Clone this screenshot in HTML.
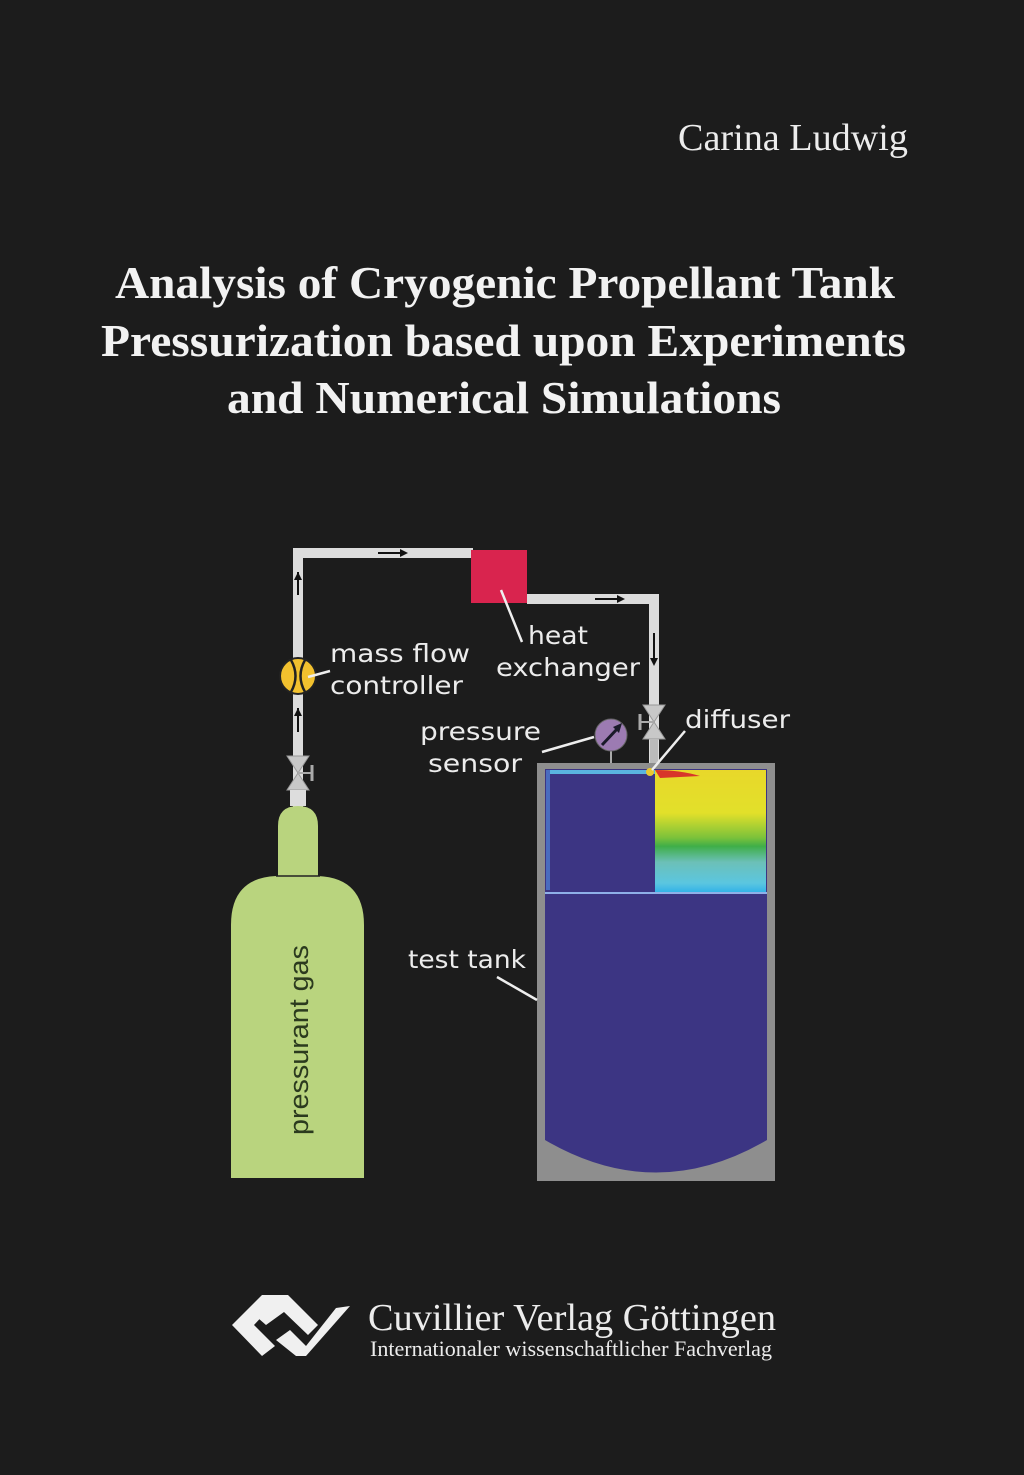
<!DOCTYPE html>
<html><head><meta charset="utf-8"><style>
html,body{margin:0;padding:0;background:#1c1c1c;}
svg{display:block}
</style></head><body>
<svg width="1024" height="1475" viewBox="0 0 1024 1475" xmlns="http://www.w3.org/2000/svg">
<defs>
<linearGradient id="hot" x1="0" y1="0" x2="0" y2="1">
<stop offset="0" stop-color="#e8d82a"/>
<stop offset="0.35" stop-color="#e2e02a"/>
<stop offset="0.55" stop-color="#7cc23a"/>
<stop offset="0.62" stop-color="#3fae48"/>
<stop offset="0.75" stop-color="#6cc0b8"/>
<stop offset="0.92" stop-color="#5bc6e0"/>
<stop offset="1" stop-color="#2fb0e8"/>
</linearGradient>
</defs>
<rect width="1024" height="1475" fill="#1c1c1c"/>
<text x="678" y="150" textLength="230" lengthAdjust="spacingAndGlyphs" font-family="Liberation Serif, serif" font-size="38" fill="#ececec">Carina Ludwig</text>
<g font-family="Liberation Serif, serif" font-weight="bold" font-size="46" fill="#f2f2f2" lengthAdjust="spacingAndGlyphs">
<text x="115" y="298" textLength="780" lengthAdjust="spacingAndGlyphs">Analysis of Cryogenic Propellant Tank</text>
<text x="101" y="356" textLength="805" lengthAdjust="spacingAndGlyphs">Pressurization based upon Experiments</text>
<text x="227" y="413" textLength="554" lengthAdjust="spacingAndGlyphs">and Numerical Simulations</text>
</g>
<!-- pipes -->
<g fill="#dcdcdc">
<rect x="293" y="548" width="10" height="260"/>
<rect x="293" y="548" width="180" height="10"/>
<rect x="527" y="594" width="132" height="10"/>
<rect x="649" y="594" width="10" height="175"/>
</g>
<!-- arrows -->
<g stroke="#111" stroke-width="2" fill="#111">
<line x1="378" y1="553" x2="400" y2="553"/><polygon points="400,549 408,553 400,557" stroke="none"/>
<line x1="595" y1="599" x2="617" y2="599"/><polygon points="617,595 625,599 617,603" stroke="none"/>
<line x1="298" y1="572" x2="298" y2="595"/><polygon points="294,580 298,572 302,580" stroke="none"/>
<line x1="298" y1="708" x2="298" y2="732"/><polygon points="294,716 298,708 302,716" stroke="none"/>
<line x1="654" y1="633" x2="654" y2="658"/><polygon points="650,658 654,666 658,658" stroke="none"/>
</g>
<!-- heat exchanger -->
<rect x="471" y="550" width="56" height="53" fill="#d9244e"/>
<line x1="501" y1="590" x2="522" y2="642" stroke="#eee" stroke-width="2.5"/>
<!-- mass flow controller -->
<circle cx="298" cy="676" r="18" fill="#f2c12e" stroke="#222" stroke-width="2"/>
<path d="M291 660 Q300 676 291 692 M305 660 Q296 676 305 692" stroke="#222" stroke-width="2.5" fill="none"/>
<line x1="308" y1="677" x2="330" y2="671" stroke="#eee" stroke-width="2.5"/>
<!-- left valve -->
<g fill="#c8c8c8" stroke="#999" stroke-width="1">
<polygon points="287,756 309,756 298,773"/>
<polygon points="287,790 309,790 298,773"/>
</g>
<line x1="298" y1="773" x2="312" y2="773" stroke="#aaa" stroke-width="2"/>
<line x1="312" y1="765" x2="312" y2="781" stroke="#aaa" stroke-width="3"/>
<!-- right valve -->
<g fill="#c8c8c8" stroke="#999" stroke-width="1">
<polygon points="643,705 665,705 654,722"/>
<polygon points="643,739 665,739 654,722"/>
</g>
<line x1="640" y1="722" x2="654" y2="722" stroke="#aaa" stroke-width="2"/>
<line x1="640" y1="714" x2="640" y2="730" stroke="#aaa" stroke-width="3"/>
<rect x="650" y="739" width="8" height="26" fill="#bbb"/>
<!-- pressure sensor -->
<line x1="611" y1="750" x2="611" y2="764" stroke="#aaa" stroke-width="2"/>
<circle cx="611" cy="735" r="16" fill="#9c7bb2" stroke="#666" stroke-width="1"/>
<line x1="602" y1="745" x2="618" y2="728" stroke="#1a1a2a" stroke-width="3"/>
<polygon points="622,723 613,727 619,733" fill="#1a1a2a"/>
<line x1="542" y1="752" x2="594" y2="737" stroke="#eee" stroke-width="2.5"/>
<!-- tank -->
<rect x="537" y="763" width="238" height="418" fill="#8e8e8e"/>
<rect x="545" y="769" width="222" height="404" fill="#3c3583"/>
<path d="M545 1140 Q656 1205 767 1140 L767 1173 L545 1173 Z" fill="#8e8e8e"/>
<rect x="655" y="770" width="111" height="123" fill="url(#hot)"/>
<path d="M655 770 Q680 770 700 776 L660 778 Z" fill="#d8362a"/>
<rect x="546" y="770" width="109" height="4" fill="#5ab4e0"/>
<rect x="546" y="770" width="4" height="120" fill="#4a6cc0"/>
<circle cx="650" cy="772" r="4" fill="#e8c830"/>
<rect x="545" y="892" width="222" height="2" fill="#8fb0e8"/>
<line x1="652" y1="770" x2="685" y2="731" stroke="#eee" stroke-width="2.5"/>
<line x1="497" y1="977" x2="537" y2="1000" stroke="#eee" stroke-width="2.5"/>
<!-- cylinder -->
<path d="M278 876 L278 826 Q278 806 298 806 Q318 806 318 826 L318 876 Z" fill="#b9d47e"/>
<rect x="283" y="800" width="30" height="6" fill="#1c1c1c"/>
<rect x="290" y="790" width="16" height="16" fill="#ddd"/>
<path d="M231 1178 L231 925 Q231 878 276 876 L318 876 Q364 878 364 925 L364 1178 Z" fill="#b9d47e"/>
<line x1="276" y1="876" x2="320" y2="876" stroke="#222" stroke-width="1.5"/>
<text transform="translate(308,1135) rotate(-90)" textLength="190" lengthAdjust="spacingAndGlyphs" font-family="Liberation Sans, sans-serif" font-size="27" fill="#2b3a1e">pressurant gas</text>
<!-- labels -->
<g font-family="DejaVu Sans, Liberation Sans, sans-serif" font-size="25" fill="#ececec">
<text x="330" y="662" textLength="140" lengthAdjust="spacingAndGlyphs">mass flow</text>
<text x="330" y="694" textLength="133" lengthAdjust="spacingAndGlyphs">controller</text>
<text x="528" y="644" textLength="60" lengthAdjust="spacingAndGlyphs">heat</text>
<text x="496" y="676" textLength="144" lengthAdjust="spacingAndGlyphs">exchanger</text>
<text x="420" y="740" textLength="121" lengthAdjust="spacingAndGlyphs">pressure</text>
<text x="428" y="772" textLength="94" lengthAdjust="spacingAndGlyphs">sensor</text>
<text x="685" y="728" textLength="105" lengthAdjust="spacingAndGlyphs">diffuser</text>
<text x="408" y="968" textLength="118" lengthAdjust="spacingAndGlyphs">test tank</text>
</g>
<!-- logo -->
<g fill="#f0f0f0">
<path d="M262 1295 L282 1295 L254 1325 L275 1346 L262 1356 L232 1325 Z"/>
<path d="M268 1295 L288 1295 L318 1325 L308 1335 L284 1312 L266 1325 L258 1318 Z"/>
<path d="M276 1340 L290 1330 L306 1346 L336 1308 L350 1306 L306 1356 L296 1356 Z"/>
</g>
<text x="368" y="1330" textLength="408" lengthAdjust="spacingAndGlyphs" font-family="Liberation Serif, serif" font-size="38" fill="#ececec">Cuvillier Verlag Göttingen</text>
<text x="370" y="1356" textLength="402" lengthAdjust="spacingAndGlyphs" font-family="Liberation Serif, serif" font-size="22" fill="#ececec">Internationaler wissenschaftlicher Fachverlag</text>
</svg>
</body></html>
